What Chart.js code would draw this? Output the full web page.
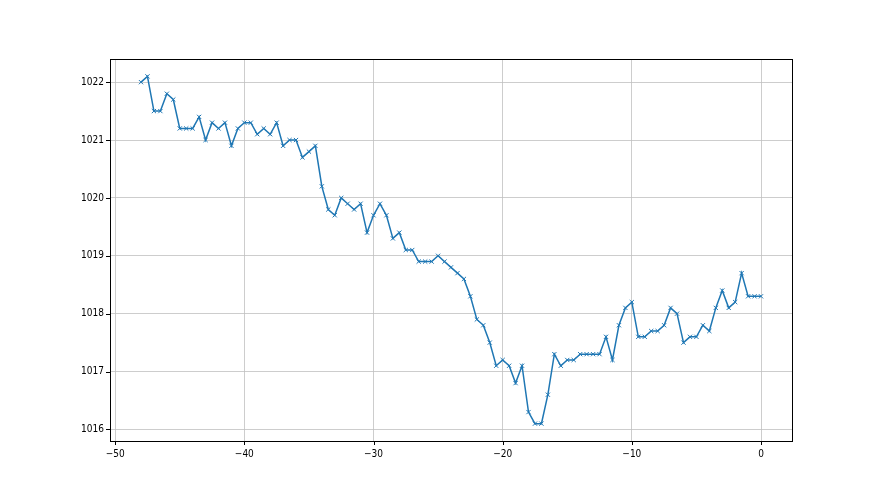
<!DOCTYPE html>
<html>
<head>
<meta charset="utf-8">
<script src="https://cdn.jsdelivr.net/npm/chart.js@4/dist/chart.umd.min.js"></script>
<style>
html,body{margin:0;padding:0;background:#fff;}
#wrap{width:880px;height:495px;}
</style>
</head>
<body>
<div id="wrap"><canvas id="c" width="880" height="495"></canvas></div>
<script>
const hoursX = [-48,-47.5,-47,-46.5,-46,-45.5,-45,-44.5,-44,-43.5,-43,-42.5,-42,-41.5,-41,-40.5,-40,-39.5,-39,-38.5,-38,-37.5,-37,-36.5,-36,-35.5,-35,-34.5,-34,-33.5,-33,-32.5,-32,-31.5,-31,-30.5,-30,-29.5,-29,-28.5,-28,-27.5,-27,-26.5,-26,-25.5,-25,-24.5,-24,-23.5,-23,-22.5,-22,-21.5,-21,-20.5,-20,-19.5,-19,-18.5,-18,-17.5,-17,-16.5,-16,-15.5,-15,-14.5,-14,-13.5,-13,-12.5,-12,-11.5,-11,-10.5,-10,-9.5,-9,-8.5,-8,-7.5,-7,-6.5,-6,-5.5,-5,-4.5,-4,-3.5,-3,-2.5,-2,-1.5,-1,-0.5,0];
const pressure = [1022.0,1022.1,1021.5,1021.5,1021.8,1021.7,1021.2,1021.2,1021.2,1021.4,1021.0,1021.3,1021.2,1021.3,1020.9,1021.2,1021.3,1021.3,1021.1,1021.2,1021.1,1021.3,1020.9,1021.0,1021.0,1020.7,1020.8,1020.9,1020.2,1019.8,1019.7,1020.0,1019.9,1019.8,1019.9,1019.4,1019.7,1019.9,1019.7,1019.3,1019.4,1019.1,1019.1,1018.9,1018.9,1018.9,1019.0,1018.9,1018.8,1018.7,1018.6,1018.3,1017.9,1017.8,1017.5,1017.1,1017.2,1017.1,1016.8,1017.1,1016.3,1016.1,1016.1,1016.6,1017.3,1017.1,1017.2,1017.2,1017.3,1017.3,1017.3,1017.3,1017.6,1017.2,1017.8,1018.1,1018.2,1017.6,1017.6,1017.7,1017.7,1017.8,1018.1,1018.0,1017.5,1017.6,1017.6,1017.8,1017.7,1018.1,1018.4,1018.1,1018.2,1018.7,1018.3,1018.3,1018.3];
const xTicks = [-50,-40,-30,-20,-10,0];
const yTicks = [1016,1017,1018,1019,1020,1021,1022];

const points = hoursX.map((x,i)=>({x:x,y:pressure[i]}));
const tickFont = {family:"'Liberation Sans Narrow','DejaVu Sans Condensed','DejaVu Sans',sans-serif", size:10};

const framePlugin = {
  id:'frame',
  afterDraw(chart){
    const ctx = chart.ctx, a = chart.chartArea;
    const xs = chart.scales.x, ys = chart.scales.y;
    ctx.save();
    ctx.strokeStyle = '#000';
    ctx.lineWidth = 1;
    ctx.strokeRect(Math.round(a.left)+0.5, Math.round(a.top)+0.5, Math.round(a.right-a.left), Math.round(a.bottom-a.top));
    ctx.beginPath();
    xTicks.forEach(v=>{
      const p = Math.round(xs.getPixelForValue(v))+0.5;
      ctx.moveTo(p, a.bottom); ctx.lineTo(p, a.bottom+4);
    });
    yTicks.forEach(v=>{
      const p = Math.round(ys.getPixelForValue(v))+0.5;
      ctx.moveTo(a.left, p); ctx.lineTo(a.left-4, p);
    });
    ctx.stroke();
    ctx.restore();
  }
};

new Chart(document.getElementById('c'), {
  type:'line',
  data:{datasets:[{
    data:points,
    borderColor:'#1f77b4',
    backgroundColor:'#1f77b4',
    borderWidth:1.5,
    pointStyle:'crossRot',
    pointRadius:3,
    pointBorderWidth:1,
    pointBorderColor:'#1f77b4',
    tension:0,
    fill:false
  }]},
  options:{
    responsive:false,
    animation:false,
    layout:{padding:{left:0,right:88,top:59,bottom:0}},
    plugins:{legend:{display:false},tooltip:{enabled:false}},
    scales:{
      x:{
        type:'linear',
        min:-50.4, max:2.4,
        afterBuildTicks(s){ s.ticks = xTicks.map(v=>({value:v})); },
        afterFit(s){ s.height = 54; },
        grid:{color:'#c0c0c0', lineWidth:0.8, drawTicks:false},
        border:{display:false},
        ticks:{color:'#000', font:tickFont, padding:7, maxRotation:0,
               callback:(v)=>String(v).replace('-','\u2212')}
      },
      y:{
        type:'linear',
        min:1015.8, max:1022.4,
        afterBuildTicks(s){ s.ticks = yTicks.map(v=>({value:v})); },
        afterFit(s){ s.width = 110; },
        grid:{color:'#c0c0c0', lineWidth:0.8, drawTicks:false},
        border:{display:false},
        ticks:{color:'#000', font:tickFont, padding:6,
               callback:(v)=>String(v)}
      }
    }
  },
  plugins:[framePlugin]
});
</script>
</body>
</html>
